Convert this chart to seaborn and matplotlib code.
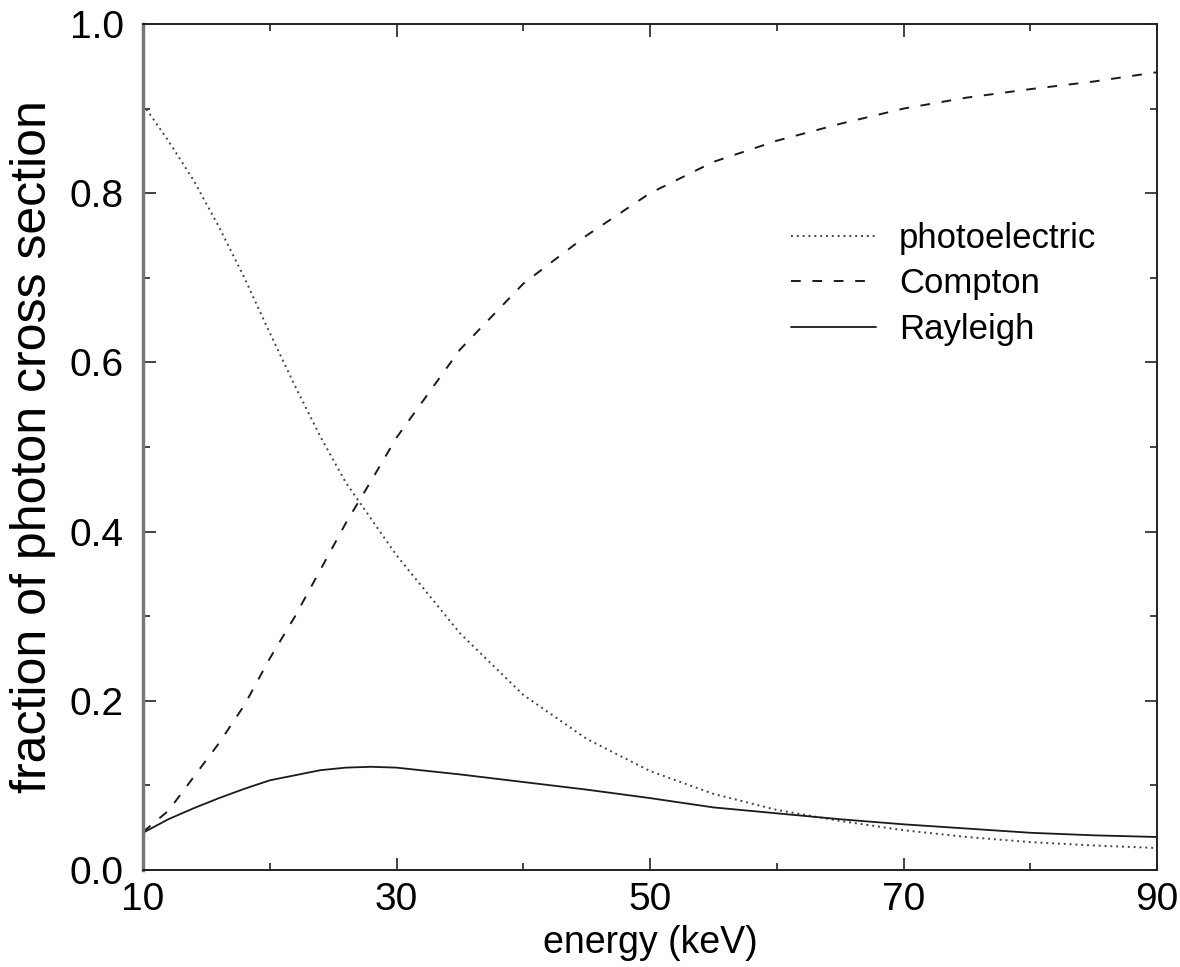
import numpy as np
import pandas as pd
import seaborn as sns
import matplotlib
matplotlib.use("Agg")
import matplotlib.pyplot as plt
from matplotlib.ticker import MultipleLocator, FixedLocator, FormatStrFormatter

# energies (keV) and fractions
energy = [10, 12, 14, 16, 18, 20, 22, 24, 26, 28, 30, 35, 40, 45, 50,
          55, 60, 65, 70, 75, 80, 85, 90]
photoelectric = [0.905, 0.862, 0.815, 0.76, 0.70, 0.635, 0.572, 0.512, 0.458,
                 0.415, 0.372, 0.28, 0.207, 0.155, 0.117, 0.09, 0.071,
                 0.058, 0.047, 0.039, 0.033, 0.029, 0.026]
compton = [0.045, 0.07, 0.11, 0.15, 0.195, 0.25, 0.30, 0.355, 0.41, 0.46,
           0.511, 0.615, 0.693, 0.75, 0.80, 0.837, 0.862, 0.882, 0.90,
           0.913, 0.923, 0.932, 0.943]
rayleigh = [0.044, 0.06, 0.073, 0.085, 0.096, 0.106, 0.112, 0.118, 0.121,
            0.122, 0.121, 0.113, 0.104, 0.095, 0.085, 0.074, 0.067, 0.06,
            0.054, 0.049, 0.044, 0.041, 0.039]

x_ticklabels = [10, 30, 50, 70, 90]

series_names = ["photoelectric", "Compton", "Rayleigh"]
series_styles = {
    "photoelectric": dict(linestyle=(0, (1, 2)), linewidth=1.4, color="#444444"),
    "Compton": dict(linestyle=(0, (5, 6)), linewidth=1.4, color="#1a1a1a"),
    "Rayleigh": dict(linestyle="-", linewidth=1.3, color="#1a1a1a"),
}

df = pd.DataFrame({"energy": energy,
                   "photoelectric": photoelectric,
                   "Compton": compton,
                   "Rayleigh": rayleigh})

sns.set_style("ticks")
plt.rcParams["font.family"] = ["Liberation Sans", "DejaVu Sans"]
plt.rcParams["text.color"] = "black"
plt.rcParams["axes.labelcolor"] = "black"
plt.rcParams["xtick.color"] = "black"
plt.rcParams["ytick.color"] = "black"

fig = plt.figure(figsize=(11.8, 9.67), dpi=100)
ax = fig.add_axes([143 / 1180, 97 / 967, 1014 / 1180, 846 / 967])

for name in series_names:
    sns.lineplot(data=df, x="energy", y=name, ax=ax, label=name,
                 **series_styles[name])

ax.set_xlim(10, 90)
ax.set_ylim(0, 1.0)
ax.xaxis.set_major_locator(FixedLocator(x_ticklabels))
ax.xaxis.set_minor_locator(MultipleLocator(10))
ax.yaxis.set_major_locator(MultipleLocator(0.2))
ax.yaxis.set_minor_locator(MultipleLocator(0.1))
ax.yaxis.set_major_formatter(FormatStrFormatter("%.1f"))

ax.tick_params(which="both", direction="in", top=True, right=True,
               color="#222222", width=1.2)
ax.tick_params(which="major", length=9)
ax.tick_params(which="minor", length=5)
ax.tick_params(axis="x", labelsize=28, pad=9)
ax.tick_params(axis="y", labelsize=28, pad=14)

for side in ["top", "right", "bottom"]:
    ax.spines[side].set_linewidth(1.4)
    ax.spines[side].set_color("#222222")
ax.spines["left"].set_linewidth(2.5)
ax.spines["left"].set_color("#777777")

ax.set_xlabel("energy (keV)", fontsize=27, labelpad=5)
ax.set_ylabel("fraction of photon cross section", fontsize=36, labelpad=10)

ax.legend(loc="upper left", bbox_to_anchor=(791 / 1180, 1 - 222 / 967),
          bbox_transform=fig.transFigure, frameon=False, fontsize=25,
          handlelength=2.45, handletextpad=0.66, labelspacing=0.36,
          borderpad=0, borderaxespad=0)

fig.savefig("out.png", dpi=100)
